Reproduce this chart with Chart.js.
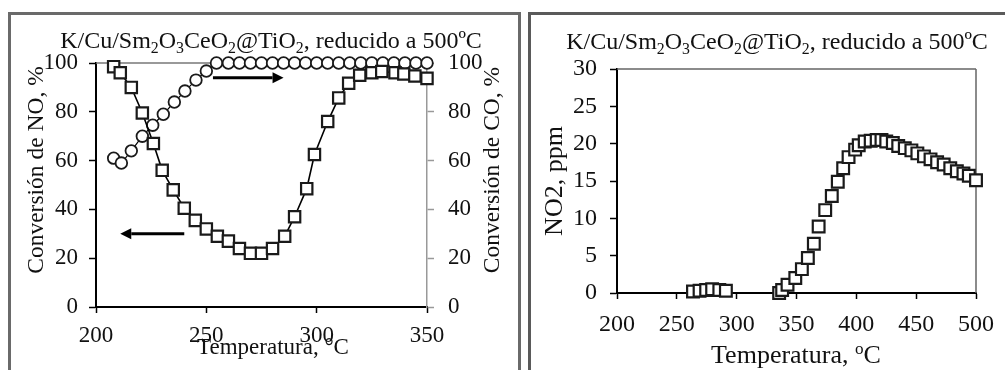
<!DOCTYPE html>
<html>
<head>
<meta charset="utf-8">
<script src="https://cdn.jsdelivr.net/npm/chart.js@4.4.1/dist/chart.umd.min.js"></script>
<style>
  html, body { margin: 0; padding: 0; background: #fff; }
  body { width: 1005px; height: 370px; position: relative; overflow: hidden; }
  .panel { position: absolute; box-sizing: border-box; border: 3px solid #5a5a5a; background: #fff; }
  #panelA { left: 8px; top: 12px; width: 513px; height: 420px; border-color: #6a6a6a; }
  #panelB { left: 528px; top: 12px; width: 500px; height: 420px; }
  canvas { position: absolute; top: 0; }
  #chartA { left: 0; }
  #chartB { left: 520px; }
</style>
</head>
<body>
<div class="panel" id="panelA"></div>
<div class="panel" id="panelB"></div>
<canvas id="chartA" width="520" height="370"></canvas>
<canvas id="chartB" width="485" height="370"></canvas>
<script>
// NO and CO conversion vs temperature (left panel)
const noTemps = [208, 211, 216, 221, 226, 230, 235, 240, 245, 250, 255, 260, 265, 270, 275,
                 280, 285.5, 290, 295.5, 299, 305, 310, 314.5, 319.5, 325, 329.5, 335.5, 339.5, 344.5, 350];
const noConv  = [98.5, 96, 90, 79.5, 67, 56, 48, 40.5, 35.5, 32, 29, 27, 24, 22, 22,
                 24, 29, 37, 48.5, 62.5, 76, 85.7, 91.7, 95, 96, 96.5, 96, 95.5, 94.7, 93.7];
const coTemps = [208, 211.5, 216, 221, 225.7, 230.5, 235.5, 240.3, 245.3, 250, 254.6, 260, 265, 270, 275,
                 280, 285, 290, 295, 300, 305, 310, 315, 320, 325, 330, 335, 340, 345, 350];
const coConv  = [61, 59, 64, 70, 74.5, 79, 84, 88.5, 93, 96.7, 100, 100, 100, 100, 100,
                 100, 100, 100, 100, 100, 100, 100, 100, 100, 100, 100, 100, 100, 100, 100];

// NO2 emitted vs temperature (right panel)
const no2Temps = [263.5, 269, 274.5, 279.5, 285.5, 291, 335.5, 338, 342.5, 349, 354.5, 359.5, 364.5, 368.5,
                  374, 379.5, 384.5, 389, 393.5, 399, 402, 407, 412, 417, 421, 425, 430.5, 435,
                  440.5, 446, 451, 456.5, 462, 467.5, 473, 478.5, 484, 489.5, 494, 500];
const no2Ppm   = [0.2, 0.3, 0.4, 0.5, 0.4, 0.3, 0, 0.4, 1.1, 2.0, 3.2, 4.7, 6.6, 8.9,
                  11.1, 13.0, 14.9, 16.7, 18.2, 19.2, 19.8, 20.3, 20.4, 20.5, 20.5, 20.3, 20.1, 19.7,
                  19.4, 19.1, 18.7, 18.3, 17.9, 17.5, 17.2, 16.7, 16.3, 16.0, 15.7, 15.1];

// Tick values
const tempTicksA = [200, 250, 300, 350];
const convTicks  = [0, 20, 40, 60, 80, 100];
const tempTicksB = [200, 250, 300, 350, 400, 450, 500];
const no2Ticks   = [0, 5, 10, 15, 20, 25, 30];

// Arrows that point each curve to its axis (data units)
const arrowToRight = { x0: 253, x1: 285, y: 94, axis: 'y2' };
const arrowToLeft  = { x0: 240, x1: 211, y: 30, axis: 'y' };

const SERIF = '"Liberation Serif", "Times New Roman", serif';
const INK = '#111';

function pts(xs, ys) { return xs.map((x, i) => ({ x: x, y: ys[i] })); }
function fixedTicks(values) { return scale => { scale.ticks = values.map(v => ({ value: v })); }; }

// Draw a run of text pieces with sub/superscripts, centred on cx
function drawRich(ctx, parts, cx, baseline, size) {
  const small = size * 0.66;
  let total = 0;
  parts.forEach(p => {
    ctx.font = (p[1] ? small : size) + 'px ' + SERIF;
    total += ctx.measureText(p[0]).width;
  });
  let x = cx - total / 2;
  ctx.textAlign = 'left';
  ctx.textBaseline = 'alphabetic';
  parts.forEach(p => {
    const s = p[1] ? small : size;
    ctx.font = s + 'px ' + SERIF;
    let dy = 0;
    if (p[1] === 'sub') dy = size * 0.22;
    if (p[1] === 'sup') dy = -size * 0.36;
    ctx.fillText(p[0], x, baseline + dy);
    x += ctx.measureText(p[0]).width;
  });
}

const titleParts = [['K/Cu/Sm'], ['2', 'sub'], ['O'], ['3', 'sub'], ['CeO'], ['2', 'sub'],
                    ['@TiO'], ['2', 'sub'], [', reducido a 500ºC']];

function vText(ctx, text, x, y, size) {
  ctx.save();
  ctx.translate(x, y);
  ctx.rotate(-Math.PI / 2);
  ctx.font = size + 'px ' + SERIF;
  ctx.textAlign = 'center';
  ctx.textBaseline = 'alphabetic';
  ctx.fillStyle = INK;
  ctx.fillText(text, 0, 0);
  ctx.restore();
}

function drawArrow(ctx, chart, a) {
  const xs = chart.scales.x, ys = chart.scales[a.axis];
  const x0 = xs.getPixelForValue(a.x0), x1 = xs.getPixelForValue(a.x1);
  const y = ys.getPixelForValue(a.y);
  const dir = Math.sign(x1 - x0);
  const head = 11, half = 5.5;
  ctx.save();
  ctx.strokeStyle = '#000';
  ctx.fillStyle = '#000';
  ctx.lineWidth = 3;
  ctx.beginPath();
  ctx.moveTo(x0, y);
  ctx.lineTo(x1 - dir * head, y);
  ctx.stroke();
  ctx.beginPath();
  ctx.moveTo(x1, y);
  ctx.lineTo(x1 - dir * head, y - half);
  ctx.lineTo(x1 - dir * head, y + half);
  ctx.closePath();
  ctx.fill();
  ctx.restore();
}

// Frame lines along the top/right edges of a plot area
function frame(color, sides) {
  return {
    id: 'frame',
    beforeDatasetsDraw(chart) {
      const { ctx, chartArea: a } = chart;
      ctx.save();
      ctx.strokeStyle = color;
      ctx.lineWidth = 1.5;
      ctx.beginPath();
      if (sides.includes('top')) { ctx.moveTo(a.left, a.top); ctx.lineTo(a.right, a.top); }
      if (sides.includes('right')) { ctx.moveTo(a.right, a.top); ctx.lineTo(a.right, a.bottom); }
      ctx.stroke();
      ctx.restore();
    }
  };
}

function baseX(ticks, height, pad, size) {
  return {
    type: 'linear', min: ticks[0], max: ticks[ticks.length - 1],
    afterBuildTicks: fixedTicks(ticks),
    afterFit: s => { s.height = height; },
    ticks: { color: INK, font: { family: SERIF, size: size }, padding: pad, maxRotation: 0 },
    grid: { drawOnChartArea: false, drawTicks: true, tickLength: 6, tickColor: '#000', tickWidth: 1.5 },
    border: { display: true, color: '#000', width: 2 }
  };
}

function baseY(ticks, width, position, lineColor, pad, size) {
  return {
    type: 'linear', position: position, min: ticks[0], max: ticks[ticks.length - 1],
    afterBuildTicks: fixedTicks(ticks),
    afterFit: s => { s.width = width; },
    ticks: { color: INK, font: { family: SERIF, size: size }, padding: pad },
    grid: { drawOnChartArea: false, drawTicks: true, tickLength: 7, tickColor: lineColor, tickWidth: 1.5 },
    border: { display: true, color: lineColor, width: position === 'left' ? 2 : 1.5 }
  };
}

const common = {
  responsive: false, animation: false, devicePixelRatio: 1,
  plugins: { legend: { display: false }, tooltip: { enabled: false }, title: { display: false } }
};

// Left panel
new Chart(document.getElementById('chartA'), {
  type: 'line',
  data: {
    datasets: [
      {
        label: 'Conversión de NO', data: pts(noTemps, noConv), yAxisID: 'y',
        borderColor: '#000', borderWidth: 1.6, pointStyle: 'rect', pointRadius: 8,
        pointBackgroundColor: '#fff', pointBorderColor: '#1a1a1a', pointBorderWidth: 2.2,
        tension: 0, clip: false
      },
      {
        label: 'Conversión de CO', data: pts(coTemps, coConv), yAxisID: 'y2',
        borderColor: '#000', borderWidth: 1.2, pointStyle: 'circle', pointRadius: 5.8,
        pointBackgroundColor: '#fff', pointBorderColor: '#1a1a1a', pointBorderWidth: 1.8,
        tension: 0, clip: false
      }
    ]
  },
  options: Object.assign({}, common, {
    layout: { padding: { top: 63, left: 0, right: 0, bottom: 0 } },
    scales: {
      x: baseX(tempTicksA, 63, 9, 23),
      y: baseY(convTicks, 96, 'left', '#000', 11, 23),
      y2: baseY(convTicks, 93, 'right', '#999', 14, 23)
    }
  }),
  plugins: [frame('#777', ['top']), {
    id: 'decorA',
    afterDatasetsDraw(chart) {
      const ctx = chart.ctx;
      drawArrow(ctx, chart, arrowToRight);
      drawArrow(ctx, chart, arrowToLeft);
    },
    afterDraw(chart) {
      const ctx = chart.ctx;
      ctx.save();
      ctx.fillStyle = INK;
      drawRich(ctx, titleParts, 271, 48, 24);
      drawRich(ctx, [['Temperatura, °C']], 273, 354, 23);
      vText(ctx, 'Conversión de NO, %', 43, 170, 23.5);
      vText(ctx, 'Conversión de CO, %', 499, 170, 23.5);
      ctx.restore();
    }
  }]
});

// Right panel
new Chart(document.getElementById('chartB'), {
  type: 'line',
  data: {
    datasets: [{
      label: 'NO2', data: pts(no2Temps, no2Ppm), showLine: false,
      pointStyle: 'rect', pointRadius: 8.3,
      pointBackgroundColor: '#fff', pointBorderColor: '#1a1a1a', pointBorderWidth: 2.2, clip: false
    }]
  },
  options: Object.assign({}, common, {
    layout: { padding: { top: 69, left: 0, right: 26, bottom: 0 } },
    scales: {
      x: baseX(tempTicksB, 77, 11, 24),
      y: baseY(no2Ticks, 97, 'left', '#000', 13, 24)
    }
  }),
  plugins: [frame('#666', ['top', 'right']), {
    id: 'decorB',
    afterDraw(chart) {
      const ctx = chart.ctx;
      ctx.save();
      ctx.fillStyle = INK;
      drawRich(ctx, titleParts, 257, 49, 24);
      drawRich(ctx, [['Temperatura, '], ['o', 'sup'], ['C']], 276, 363, 26);
      vText(ctx, 'NO2, ppm', 42, 181, 26);
      ctx.restore();
    }
  }]
});
</script>
</body>
</html>
